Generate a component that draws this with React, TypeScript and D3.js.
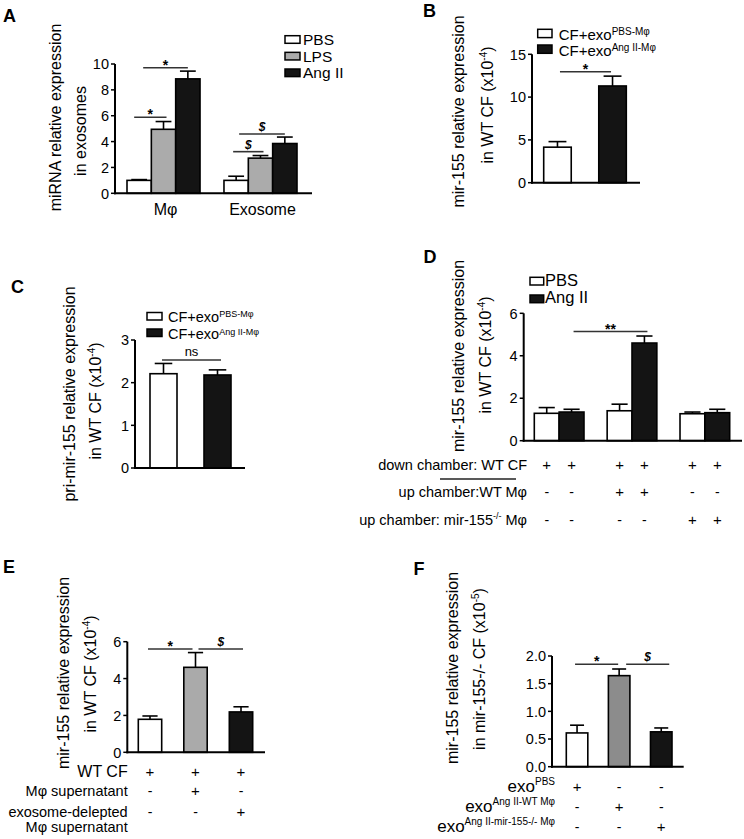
import React from 'react';
import * as d3 from 'd3';

const FONT = "'Liberation Sans', Arial, Helvetica, sans-serif";

// ---------- Panel A ----------
const aGroups = ['Mφ', 'Exosome'];
const aSeries = ['PBS', 'LPS', 'Ang II'];
const aPBS = [1.0, 1.0];
const aPBSErr = [0.06, 0.32];
const aLPS = [4.95, 2.72];
const aLPSErr = [0.6, 0.2];
const aAngII = [8.85, 3.85];
const aAngIIErr = [0.6, 0.5];
const aTicks = [0, 2, 4, 6, 8, 10];
const aSig = [
  { g: 0, from: 'PBS', to: 'LPS', level: 5.88, label: '*' },
  { g: 0, from: 'PBS', to: 'Ang II', level: 9.71, label: '*' },
  { g: 1, from: 'PBS', to: 'LPS', level: 3.22, label: '$' },
  { g: 1, from: 'PBS', to: 'Ang II', level: 4.59, label: '$' },
];

// ---------- Panel B ----------
const bCats = ['CF+exoPBS-Mφ', 'CF+exoAng II-Mφ'];
const bValues = [4.15, 11.3];
const bErr = [0.65, 1.15];
const bTicks = [0, 5, 10, 15];
const bSig = [{ from: 0, to: 1, level: 12.97, label: '*' }];

// ---------- Panel C ----------
const cCats = ['CF+exoPBS-Mφ', 'CF+exoAng II-Mφ'];
const cValues = [2.21, 2.18];
const cErr = [0.24, 0.12];
const cTicks = [0, 1, 2, 3];
const cSig = [{ from: 0, to: 1, level: 2.53, label: 'ns' }];

// ---------- Panel D ----------
const dGroups = ['WT CF', 'WT Mφ', 'mir-155-/- Mφ'];
const dSeries = ['PBS', 'Ang II'];
const dPBS = [1.29, 1.41, 1.27];
const dPBSErr = [0.27, 0.31, 0.08];
const dAngII = [1.35, 4.6, 1.32];
const dAngIIErr = [0.13, 0.33, 0.16];
const dTicks = [0, 2, 4, 6];
const dSig = [{ fromG: 0, fromS: 'Ang II', toG: 1, toS: 'Ang II', level: 5.14, label: '**' }];
const dRowDown = ['+', '+', '+', '+', '+', '+'];
const dRowUpWT = ['-', '-', '+', '+', '-', '-'];
const dRowUpKO = ['-', '-', '-', '-', '+', '+'];

// ---------- Panel E ----------
const eCats = ['WT CF', 'Mφ supernatant', 'exosome-delepted Mφ supernatant'];
const eValues = [1.79, 4.61, 2.19];
const eErr = [0.18, 0.8, 0.28];
const eTicks = [0, 2, 4, 6];
const eSig = [
  { from: 0, to: 1, level: 5.6, label: '*' },
  { from: 1, to: 2, level: 5.6, label: '$' },
];
const eRowCF = ['+', '+', '+'];
const eRowSup = ['-', '+', '-'];
const eRowDep = ['-', '-', '+'];

// ---------- Panel F ----------
const fCats = ['exoPBS', 'exoAng II-WT Mφ', 'exoAng II-mir-155-/- Mφ'];
const fValues = [0.61, 1.645, 0.63];
const fErr = [0.14, 0.12, 0.07];
const fTicks = [0, 0.5, 1.0, 1.5, 2.0];
const fSig = [
  { from: 0, to: 1, level: 1.85, label: '*' },
  { from: 1, to: 2, level: 1.85, label: '$' },
];
const fRowPBS = ['+', '-', '-'];
const fRowWT = ['-', '+', '-'];
const fRowKO = ['-', '-', '+'];

// ---------- helpers ----------
function YAxis({ x, scale, ticks, fmt = (d: number) => String(d), fs = 14.5 }: any) {
  const yb = scale(ticks[0]);
  const yt = scale(ticks[ticks.length - 1]);
  return (
    <g>
      <line x1={x} x2={x} y1={yb + 1} y2={yt} stroke="#000" strokeWidth={2} />
      {ticks.map((t: number, i: number) => (
        <g key={i}>
          <line x1={x - 4} x2={x} y1={scale(t)} y2={scale(t)} stroke="#000" strokeWidth={1.5} />
          <text x={x - 6} y={scale(t)} dy="0.36em" textAnchor="end" fontSize={fs}>
            {fmt(t)}
          </text>
        </g>
      ))}
    </g>
  );
}

function XLine({ x0, x1, y }: any) {
  return <line x1={x0} x2={x1} y1={y} y2={y} stroke="#000" strokeWidth={2} />;
}

function Bar({ x, w, scale, v, e, fill, cap = 0.65 }: any) {
  const top = scale(v);
  const base = scale(0);
  const et = scale(v + e);
  const cx = x + w / 2;
  const cw = w * cap;
  return (
    <g>
      <line x1={cx} x2={cx} y1={top} y2={et} stroke="#000" strokeWidth={1.6} />
      <line x1={cx - cw / 2} x2={cx + cw / 2} y1={et} y2={et} stroke="#000" strokeWidth={1.6} />
      <rect x={x} y={top} width={w} height={base - top} fill={fill} stroke="#000" strokeWidth={1.6} />
    </g>
  );
}

function Sig({ x1, x2, y, label }: any) {
  const mid = (x1 + x2) / 2;
  let lab;
  if (label === '$') {
    lab = (
      <text x={mid} y={y - 3} textAnchor="middle" fontSize={12} fontWeight="bold" fontStyle="italic">
        $
      </text>
    );
  } else if (label === 'ns') {
    lab = (
      <text x={mid} y={y - 4} textAnchor="middle" fontSize={13}>
        ns
      </text>
    );
  } else {
    lab = (
      <text x={mid} y={y + 2} textAnchor="middle" fontSize={14} fontWeight="bold">
        {label}
      </text>
    );
  }
  return (
    <g>
      <line x1={x1} x2={x2} y1={y} y2={y} stroke="#333" strokeWidth={1.6} />
      {lab}
    </g>
  );
}

function VTitle({ x, y, children, fs = 16 }: any) {
  return (
    <text transform={`translate(${x},${y}) rotate(-90)`} dy="0.27em" textAnchor="middle" fontSize={fs}>
      {children}
    </text>
  );
}

function Sup({ base, sup, sfs = 10, shift = 6 }: any) {
  return (
    <>
      {base}
      <tspan dy={-shift} fontSize={sfs}>
        {sup}
      </tspan>
    </>
  );
}

function PanelLetter({ x, y, t }: any) {
  return (
    <text x={x} y={y} fontSize={18} fontWeight="bold">
      {t}
    </text>
  );
}

function LegendItem({ x, y, w, h, fill, tx, ty, fs, children }: any) {
  return (
    <g>
      <rect x={x} y={y} width={w} height={h} fill={fill} stroke="#000" strokeWidth={1.5} />
      <text x={tx} y={ty} fontSize={fs}>
        {children}
      </text>
    </g>
  );
}

export default function App() {
  // ----- A -----
  const aY = d3.scaleLinear().domain([0, 10]).range([193.3, 64]);
  const aX = d3.scaleBand().domain(aGroups).range([127, 297]).paddingInner(0.247);
  const aXi = d3.scaleBand().domain(aSeries).range([0, aX.bandwidth()]);
  const aVals: any = { PBS: aPBS, LPS: aLPS, 'Ang II': aAngII };
  const aErrs: any = { PBS: aPBSErr, LPS: aLPSErr, 'Ang II': aAngIIErr };
  const aFill: any = { PBS: '#fff', LPS: '#ababab', 'Ang II': '#141414' };
  const aCenter = (gi: number, s: string) => (aX(aGroups[gi]) as number) + (aXi(s) as number) + aXi.bandwidth() / 2;
  const aNudge = [[-5, 3], [4, 0], [-3, 3], [3, 0]];

  // ----- B -----
  const bY = d3.scaleLinear().domain([0, 15]).range([182.7, 54.3]);
  const bX = d3.scaleBand().domain(bCats).range([543.7, 626.3]).paddingInner(0.5);
  const bFill = ['#fff', '#141414'];
  const bC = (i: number) => (bX(bCats[i]) as number) + bX.bandwidth() / 2;
  const bNudge = [[2.5, -1.5]];

  // ----- C -----
  const cY = d3.scaleLinear().domain([0, 3]).range([468, 340]);
  const cX = d3.scaleBand().domain(cCats).range([150, 231]).paddingInner(0.5);
  const cFill = ['#fff', '#141414'];
  const cC = (i: number) => (cX(cCats[i]) as number) + cX.bandwidth() / 2;
  const cNudge = [[-1.5, 3.5]];

  // ----- D -----
  const dY = d3.scaleLinear().domain([0, 6]).range([440.7, 313.3]);
  const dX = d3.scaleBand().domain(dGroups).range([534.3, 729.7]).paddingInner(0.318);
  const dXi = d3.scaleBand().domain(dSeries).range([0, dX.bandwidth()]);
  const dVals: any = { PBS: dPBS, 'Ang II': dAngII };
  const dErrs: any = { PBS: dPBSErr, 'Ang II': dAngIIErr };
  const dFill: any = { PBS: '#fff', 'Ang II': '#141414' };
  const dCenter = (gi: number, s: string) => (dX(dGroups[gi]) as number) + (dXi(s) as number) + dXi.bandwidth() / 2;
  const dNudge = [[2, 3]];
  const dCols: number[] = [];
  dGroups.forEach((_, gi) => dSeries.forEach((s) => dCols.push(dCenter(gi, s))));

  // ----- E -----
  const eY = d3.scaleLinear().domain([0, 6]).range([752.3, 641.7]);
  const eX = d3.scaleBand().domain(eCats).range([138.3, 252.7]).paddingInner(0.486);
  const eFill = ['#fff', '#aaaaaa', '#141414'];
  const eC = (i: number) => (eX(eCats[i]) as number) + eX.bandwidth() / 2;
  const eNudge = [[-2, -3], [3, 2]];

  // ----- F -----
  const fY = d3.scaleLinear().domain([0, 2]).range([766.7, 656]);
  const fX = d3.scaleBand().domain(fCats).range([566.3, 672]).paddingInner(0.489);
  const fFill = ['#fff', '#8c8c8c', '#141414'];
  const fC = (i: number) => (fX(fCats[i]) as number) + fX.bandwidth() / 2;
  const fNudge = [[-2, -1], [7, 8]];

  const markRow = (vals: string[], xs: number[], y: number, key: string) =>
    vals.map((m, i) => (
      <text key={key + i} x={xs[i]} y={y} textAnchor="middle" fontSize={m === '+' ? 15 : 14}>
        {m}
      </text>
    ));

  return (
    <svg
      width={744}
      height={839}
      viewBox="0 0 744 839"
      style={{ position: 'absolute', left: 0, top: 0, background: '#fff' }}
      fontFamily={FONT}
    >
      <rect x={0} y={0} width={744} height={839} fill="#fff" />

      {/* ================= A ================= */}
      <PanelLetter x={3} y={21.5} t="A" />
      <VTitle x={56.5} y={117.5}>miRNA relative expression</VTitle>
      <VTitle x={81.5} y={131}>in exosomes</VTitle>
      {aGroups.map((g, gi) =>
        aSeries.map((s) => (
          <Bar
            key={g + s}
            x={(aX(g) as number) + (aXi(s) as number)}
            w={aXi.bandwidth()}
            scale={aY}
            v={aVals[s][gi]}
            e={aErrs[s][gi]}
            fill={aFill[s]}
          />
        ))
      )}
      <YAxis x={115} scale={aY} ticks={aTicks} />
      <XLine x0={114} x1={312} y={aY(0)} />
      {aGroups.map((g) => (
        <text key={g} x={(aX(g) as number) + aX.bandwidth() / 2 + 2} y={215} textAnchor="middle" fontSize={16}>
          {g}
        </text>
      ))}
      {aSig.map((s, i) => (
        <Sig
          key={i}
          x1={aCenter(s.g, s.from) + aNudge[i][0]}
          x2={aCenter(s.g, s.to) + aNudge[i][1]}
          y={aY(s.level)}
          label={s.label}
        />
      ))}
      {aSeries.map((s, i) => (
        <LegendItem
          key={s}
          x={285}
          y={35.7 + i * 16.65}
          w={15}
          h={7.6}
          fill={aFill[s]}
          tx={303}
          ty={45 + i * 16.65}
          fs={15.5}
        >
          {s}
        </LegendItem>
      ))}

      {/* ================= B ================= */}
      <PanelLetter x={423} y={17} t="B" />
      <VTitle x={460} y={111.5}>mir-155 relative expression</VTitle>
      <VTitle x={488.5} y={105}>
        <Sup base="in WT CF (x10" sup="-4" />
        <tspan dy={6}>)</tspan>
      </VTitle>
      {bCats.map((c, i) => (
        <Bar key={c} x={bX(c)} w={bX.bandwidth()} scale={bY} v={bValues[i]} e={bErr[i]} fill={bFill[i]} />
      ))}
      <YAxis x={532} scale={bY} ticks={bTicks} />
      <XLine x0={531} x1={640} y={bY(0)} />
      {bSig.map((s, i) => (
        <Sig key={i} x1={bC(s.from) + bNudge[i][0]} x2={bC(s.to) + bNudge[i][1]} y={bY(s.level)} label={s.label} />
      ))}
      <LegendItem x={537.7} y={29.3} w={14.3} h={8.3} fill={bFill[0]} tx={558.7} ty={40} fs={15}>
        <Sup base="CF+exo" sup="PBS-Mφ" shift={5} />
      </LegendItem>
      <LegendItem x={537.7} y={45} w={14.3} h={8.3} fill={bFill[1]} tx={558.7} ty={56} fs={15}>
        <Sup base="CF+exo" sup="Ang II-Mφ" shift={5} />
      </LegendItem>

      {/* ================= C ================= */}
      <PanelLetter x={11} y={293.3} t="C" />
      <VTitle x={71} y={394}>pri-mir-155 relative expression</VTitle>
      <VTitle x={96.5} y={401}>
        <Sup base="in WT CF (x10" sup="-4" />
        <tspan dy={6}>)</tspan>
      </VTitle>
      {cCats.map((c, i) => (
        <Bar key={c} x={cX(c)} w={cX.bandwidth()} scale={cY} v={cValues[i]} e={cErr[i]} fill={cFill[i]} />
      ))}
      <YAxis x={135} scale={cY} ticks={cTicks} />
      <XLine x0={134} x1={245} y={cY(0)} />
      {cSig.map((s, i) => (
        <Sig key={i} x1={cC(s.from) + cNudge[i][0]} x2={cC(s.to) + cNudge[i][1]} y={cY(s.level)} label={s.label} />
      ))}
      <LegendItem x={147} y={312.5} w={15} h={7.5} fill={cFill[0]} tx={168} ty={322.3} fs={14.5}>
        <Sup base="CF+exo" sup="PBS-Mφ" shift={5} sfs={9} />
      </LegendItem>
      <LegendItem x={147} y={329} w={15} h={7.5} fill={cFill[1]} tx={168} ty={338.5} fs={14.5}>
        <Sup base="CF+exo" sup="Ang II-Mφ" shift={4} sfs={9} />
      </LegendItem>

      {/* ================= D ================= */}
      <PanelLetter x={423.5} y={263.3} t="D" />
      <VTitle x={460} y={356}>mir-155 relative expression</VTitle>
      <VTitle x={487} y={355}>
        <Sup base="in WT CF (x10" sup="-4" />
        <tspan dy={6}>)</tspan>
      </VTitle>
      {dGroups.map((g, gi) =>
        dSeries.map((s) => (
          <Bar
            key={g + s}
            x={(dX(g) as number) + (dXi(s) as number)}
            w={dXi.bandwidth()}
            scale={dY}
            v={dVals[s][gi]}
            e={dErrs[s][gi]}
            fill={dFill[s]}
          />
        ))
      )}
      <YAxis x={523.7} scale={dY} ticks={dTicks} />
      <XLine x0={522.7} x1={742} y={dY(0)} />
      {dSig.map((s, i) => (
        <Sig
          key={i}
          x1={dCenter(s.fromG, s.fromS) + dNudge[i][0]}
          x2={dCenter(s.toG, s.toS) + dNudge[i][1]}
          y={dY(s.level)}
          label={s.label}
        />
      ))}
      {dSeries.map((s, i) => (
        <LegendItem
          key={s}
          x={530}
          y={277.3 + i * 17.7}
          w={13.7}
          h={7.7}
          fill={dFill[s]}
          tx={545}
          ty={286 + i * 17.3}
          fs={16.5}
        >
          {s}
        </LegendItem>
      ))}
      <text x={527} y={470} textAnchor="end" fontSize={14.5}>
        down chamber: WT CF
      </text>
      <line x1={440} x2={516} y1={479} y2={479} stroke="#222" strokeWidth={1.6} />
      <text x={527} y={496.7} textAnchor="end" fontSize={14.5}>
        up chamber:WT Mφ
      </text>
      <text x={527} y={525} textAnchor="end" fontSize={14.5}>
        <Sup base="up chamber: mir-155" sup="-/-" shift={6} sfs={9} />
        <tspan dy={6}> Mφ</tspan>
      </text>
      {markRow(dRowDown, dCols, 470, 'dr1')}
      {markRow(dRowUpWT, dCols, 496.7, 'dr2')}
      {markRow(dRowUpKO, dCols, 525, 'dr3')}

      {/* ================= E ================= */}
      <PanelLetter x={3} y={573.3} t="E" />
      <VTitle x={65} y={673}>mir-155 relative expression</VTitle>
      <VTitle x={91.5} y={674}>
        <Sup base="in WT CF (x10" sup="-4" />
        <tspan dy={6}>)</tspan>
      </VTitle>
      {eCats.map((c, i) => (
        <Bar key={c} x={eX(c)} w={eX.bandwidth()} scale={eY} v={eValues[i]} e={eErr[i]} fill={eFill[i]} />
      ))}
      <YAxis x={127.3} scale={eY} ticks={eTicks} />
      <XLine x0={126.3} x1={265} y={eY(0)} />
      {eSig.map((s, i) => (
        <Sig key={i} x1={eC(s.from) + eNudge[i][0]} x2={eC(s.to) + eNudge[i][1]} y={eY(s.level)} label={s.label} />
      ))}
      <text x={127.7} y={776.7} textAnchor="end" fontSize={16}>
        WT CF
      </text>
      <text x={127.7} y={796} textAnchor="end" fontSize={14.5}>
        Mφ supernatant
      </text>
      <text x={127.7} y={817.3} textAnchor="end" fontSize={14.5}>
        exosome-delepted
      </text>
      <text x={127.7} y={832.3} textAnchor="end" fontSize={14.5}>
        Mφ supernatant
      </text>
      {markRow(eRowCF, eCats.map((_, i) => eC(i)), 776.7, 'er1')}
      {markRow(eRowSup, eCats.map((_, i) => eC(i)), 796, 'er2')}
      {markRow(eRowDep, eCats.map((_, i) => eC(i)), 817.3, 'er3')}

      {/* ================= F ================= */}
      <PanelLetter x={413.5} y={575} t="F" />
      <VTitle x={453.7} y={668}>mir-155 relative expression</VTitle>
      <VTitle x={480.3} y={669}>
        <Sup base="in mir-155-/- CF (x10" sup="-5" />
        <tspan dy={6}>)</tspan>
      </VTitle>
      {fCats.map((c, i) => (
        <Bar key={c} x={fX(c)} w={fX.bandwidth()} scale={fY} v={fValues[i]} e={fErr[i]} fill={fFill[i]} />
      ))}
      <YAxis x={552} scale={fY} ticks={fTicks} fmt={d3.format('.1f')} />
      <XLine x0={551} x1={683.7} y={fY(0)} />
      {fSig.map((s, i) => (
        <Sig key={i} x1={fC(s.from) + fNudge[i][0]} x2={fC(s.to) + fNudge[i][1]} y={fY(s.level)} label={s.label} />
      ))}
      <text x={555} y={791.7} textAnchor="end" fontSize={17}>
        <Sup base="exo" sup="PBS" shift={7} />
      </text>
      <text x={555} y={812.3} textAnchor="end" fontSize={17}>
        <Sup base="exo" sup="Ang II-WT Mφ" shift={7} />
      </text>
      <text x={555} y={832.3} textAnchor="end" fontSize={17}>
        <Sup base="exo" sup="Ang II-mir-155-/- Mφ" shift={7} />
      </text>
      {markRow(fRowPBS, fCats.map((_, i) => fC(i)), 791.7, 'fr1')}
      {markRow(fRowWT, fCats.map((_, i) => fC(i)), 812.3, 'fr2')}
      {markRow(fRowKO, fCats.map((_, i) => fC(i)), 832.3, 'fr3')}
    </svg>
  );
}
